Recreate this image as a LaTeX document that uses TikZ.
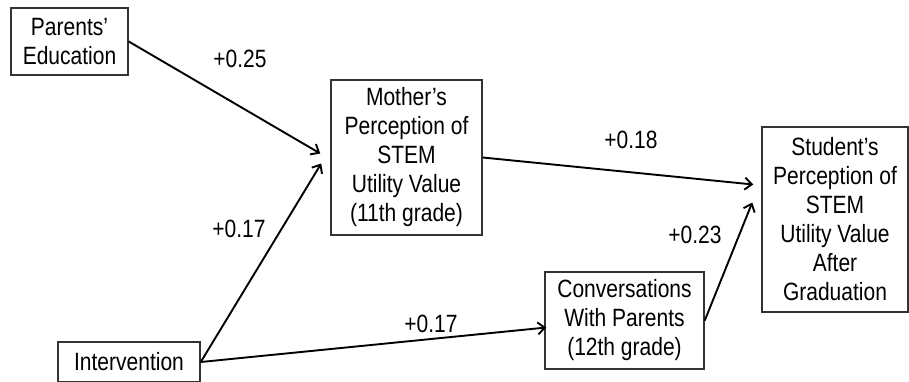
\documentclass[tikz,border=0pt]{standalone}
\usepackage{fontspec}
\setmainfont{Liberation Sans}[FakeStretch=0.84]
\usetikzlibrary{arrows.meta}
\begin{document}
\begin{tikzpicture}[x=1pt,y=-1pt,
  box/.style={draw=black!80,line width=1.5pt,align=center,inner sep=0pt,
    font=\fontsize{25}{29}\selectfont},
  path/.style={line width=1.9pt,-{Straight Barb[length=7pt,width=12pt]}},
  coef/.style={anchor=base,inner sep=0pt,font=\fontsize{25}{29}\selectfont}]
\useasboundingbox (0,0) rectangle (909,381);
\node[box,minimum width=117pt,minimum height=67pt] (par) at (69.5,41.5) {Parents'\\Education};
\node[box,minimum width=151pt,minimum height=155pt] (mom) at (406.5,157.5) {Mother's\\Perception of\\STEM\\Utility Value\\(11th grade)};
\node[box,minimum width=146pt,minimum height=185pt] (stu) at (835,219.5) {Student's\\Perception of\\STEM\\Utility Value\\After\\Graduation};
\node[box,minimum width=159pt,minimum height=97pt] (conv) at (624.5,320.5) {Conversations\\With Parents\\(12th grade)};
\node[box,minimum width=142pt,minimum height=40pt] (int) at (129,362) {Intervention};
\draw[path] (par.east) -- ([xshift=-10pt,yshift=4pt]mom.west);
\draw[path] (int.east) -- ([xshift=-9pt,yshift=-6pt]mom.west);
\draw[path] (int.east) -- ([xshift=2pt,yshift=-7pt]conv.west);
\draw[path] (mom.east) -- ([xshift=-8pt,yshift=35pt]stu.west);
\draw[path] (conv.east) -- ([xshift=-9pt,yshift=17pt]stu.west);
\node[coef] (c1) at (240,67) {+0.25};
\node[coef] (c2) at (239,237) {+0.17};
\node[coef] (c3) at (631,148) {+0.18};
\node[coef] (c4) at (695,243) {+0.23};
\node[coef] (c5) at (431,332) {+0.17};
\end{tikzpicture}
\end{document}
